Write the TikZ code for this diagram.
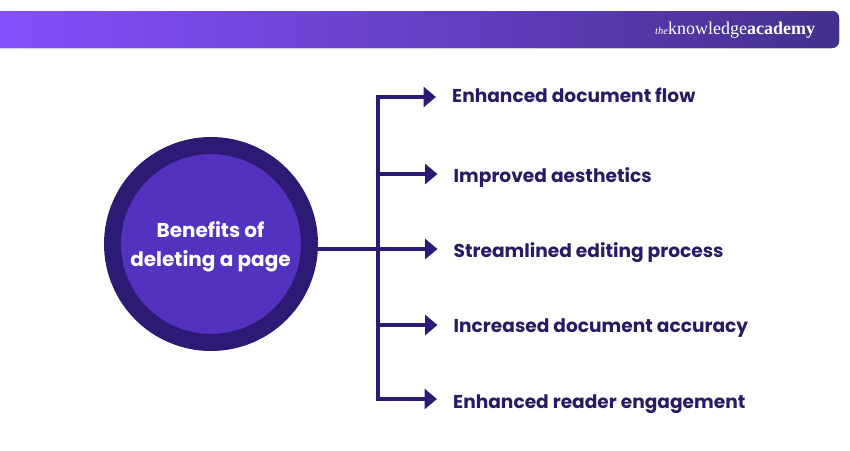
\documentclass[tikz,border=0pt]{standalone}
\usepackage{fontspec}
\setmainfont{Poppins}
\newfontfamily\logofont{Liberation Serif}
\usetikzlibrary{arrows.meta, positioning, calc}
\definecolor{bannerleft}{HTML}{8650FF}
\definecolor{bannerright}{HTML}{44308C}
\definecolor{ringdark}{HTML}{2C1A75}
\definecolor{discfill}{HTML}{5232BE}
\definecolor{labeltext}{HTML}{2A1A66}

\begin{document}
\begin{tikzpicture}[
    x=1pt,
    y=-1pt,
    benefit/.style={anchor=west, inner ysep=0pt, inner xsep=16pt, text height=13.5pt, text depth=0pt, text=labeltext, font=\fontsize{18.6}{20}\selectfont\bfseries},
    trunkline/.style={draw=ringdark, line width=3.6pt},
    branch/.style={trunkline, -{Triangle[length=12.5pt, width=20pt]}}
]
   \useasboundingbox (0,0) rectangle (850,450);

   % Banner
   \fill[left color=bannerleft, right color=bannerright, rounded corners=7pt]
       (-10,11) rectangle (839,48);
   \node[anchor=west, inner sep=0pt, text=white, font=\logofont\fontsize{18}{20}\selectfont] (logo) at (655,30)
       {{\fontsize{10.5}{10}\selectfont\itshape the}knowledge\textbf{academy}};

   % Circle
   \node[circle, fill=discfill, draw=ringdark, line width=17pt, minimum size=197pt, inner sep=0pt] (hub) at (211,244) {};
   \node[align=center, inner sep=0pt, text=white, font=\fontsize{20}{29}\selectfont\bfseries, xshift=-0.5pt, yshift=-3pt] (hubtext) at (hub)
       {Benefits of\\deleting a page};

   % Labels
   \node[benefit] (flow) at (436,96) {Enhanced document flow};
   \node[benefit] (looks) at (437.5,176) {Improved aesthetics};
   \node[benefit] (edit) at (437.5,251) {Streamlined editing process};
   \node[benefit] (accuracy) at (437.5,326) {Increased document accuracy};
   \node[benefit] (reader) at (437,402) {Enhanced reader engagement};

   % Trunk
   \coordinate (top) at (378,97);
   \coordinate (bottom) at (378,399);
   \draw[trunkline, line join=miter] (flow.west |- top) ++(-10,0) -- (top) -- (bottom) -- ++(10,0);

   % Arrows
   \draw[branch] (top) -- (flow.west |- top);
   \draw[branch] (top |- 0,174) -- (looks.west |- 0,174);
   \draw[branch] (hub.east |- 0,249) -- (edit.west |- 0,249);
   \draw[branch] (top |- 0,325) -- (accuracy.west |- 0,325);
   \draw[branch] (bottom) -- (reader.west |- bottom);
\end{tikzpicture}
\end{document}
